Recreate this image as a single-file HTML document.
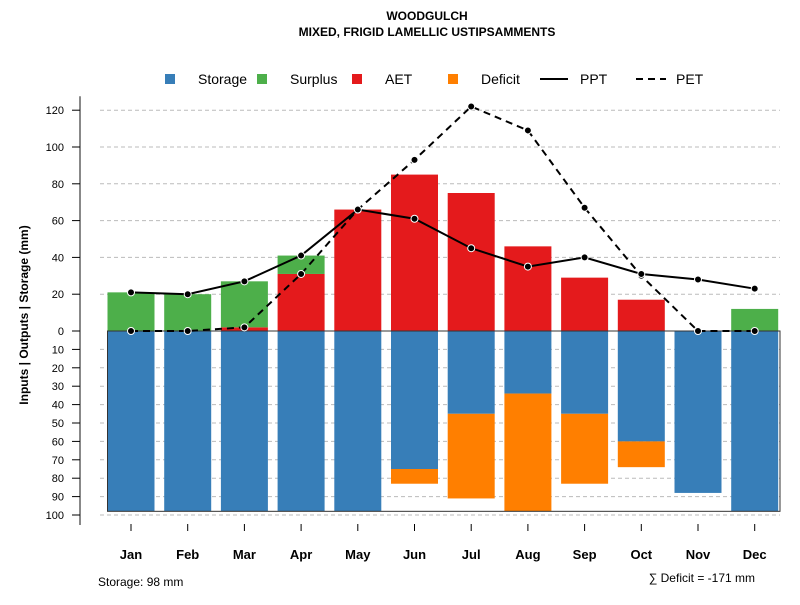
<!DOCTYPE html>
<html><head><meta charset="utf-8"><style>
body{margin:0;background:#fff;font-family:"Liberation Sans",sans-serif}
svg text{font-family:"Liberation Sans",sans-serif}
</style></head><body>
<svg id="c" width="800" height="600" xmlns="http://www.w3.org/2000/svg"></svg>
<script>
const months=["Jan","Feb","Mar","Apr","May","Jun","Jul","Aug","Sep","Oct","Nov","Dec"];
const storage=[98,98,98,98,98,75,45,34,45,60,88,98];
const deficit=[0,0,0,0,0,8,46,64,38,14,0,0];
const aet=[0,0,2,31,66,85,75,46,29,17,0,0];
const surplus=[21,20,25,10,0,0,0,0,0,0,0,12];
const ppt=[21,20,27,41,66,61,45,35,40,31,28,23];
const pet=[0,0,2,31,66,93,122,109,67,30,0,0];
const upTicks=[0,20,40,60,80,100,120];
const downTicks=[10,20,30,40,50,60,70,80,90,100];
const NS="http://www.w3.org/2000/svg";
const svg=document.getElementById('c');
const K=1.84,Y0=331;
const yUp=v=>Y0-v*K, yDn=v=>Y0+v*K;
const xc=i=>131+i*56.7, BW=47;
function el(t,a,txt){const e=document.createElementNS(NS,t);for(const k in a)e.setAttribute(k,a[k]);if(txt!=null)e.textContent=txt;svg.appendChild(e);return e;}
// title
let t=el('text',{x:427,y:20,'text-anchor':'middle','font-size':12,'font-weight':'bold'},'WOODGULCH');

t=el('text',{x:427,y:36,'text-anchor':'middle','font-size':12,'font-weight':'bold'},'MIXED, FRIGID LAMELLIC USTIPSAMMENTS');

// grid
upTicks.forEach(v=>{if(v===0)return;let g=el('line',{x1:100,x2:780,y1:yUp(v),y2:yUp(v),stroke:'#bbb','stroke-dasharray':'4,3'});});
downTicks.forEach(v=>{let g=el('line',{x1:100,x2:780,y1:yDn(v),y2:yDn(v),stroke:'#bbb','stroke-dasharray':'4,3'});});
// bars
months.forEach((m,i)=>{
 const x=xc(i)-BW/2;
 let r;
 if(storage[i]>0){r=el('rect',{x:x,y:Y0,width:BW,height:storage[i]*K,fill:'#377eb8'});}
 if(deficit[i]>0){r=el('rect',{x:x,y:yDn(storage[i]),width:BW,height:deficit[i]*K,fill:'#ff7f00'});}
 if(aet[i]>0){r=el('rect',{x:x,y:yUp(aet[i]),width:BW,height:aet[i]*K,fill:'#e41a1c'});}
 if(surplus[i]>0){r=el('rect',{x:x,y:yUp(aet[i]+surplus[i]),width:BW,height:surplus[i]*K,fill:'#4daf4a'});}
});
let b=el('rect',{x:xc(0)-BW/2,y:Y0,width:780-(xc(0)-BW/2),height:98*K,fill:'none',stroke:'#333','stroke-width':1});

// lines
function line(arr,dash,name){
 const d=arr.map((v,i)=>(i?'L':'M')+xc(i)+','+yUp(v)).join(' ');
 let p=el('path',{d:d,fill:'none',stroke:'#000','stroke-width':2,'stroke-dasharray':dash});
 
 arr.forEach((v,i)=>{let c=el('circle',{cx:xc(i),cy:yUp(v),r:3.5,fill:'#000',stroke:'#fff','stroke-width':1});});
}
line(pet,'7,5','pet');
line(ppt,'none','ppt');
// y axis
let ax=el('line',{x1:80,x2:80,y1:yUp(upTicks[upTicks.length-1])-14,y2:yDn(100)+10,stroke:'#888','stroke-width':2});

upTicks.forEach(v=>{el('line',{x1:72,x2:80,y1:yUp(v),y2:yUp(v),stroke:'#000'});let l=el('text',{x:64,y:yUp(v)+4,'text-anchor':'end','font-size':11},v);});
downTicks.forEach(v=>{el('line',{x1:72,x2:80,y1:yDn(v),y2:yDn(v),stroke:'#000'});let l=el('text',{x:64,y:yDn(v)+4,'text-anchor':'end','font-size':11},v);});
t=el('text',{x:28,y:315,'text-anchor':'middle','font-size':12,'font-weight':'bold',transform:'rotate(-90 28 315)'},'Inputs | Outputs | Storage    (mm)');

// x labels
months.forEach((m,i)=>{el('line',{x1:xc(i),x2:xc(i),y1:524,y2:531,stroke:'#000'});let l=el('text',{x:xc(i),y:559,'text-anchor':'middle','font-size':13,'font-weight':'bold'},m);});
// legend
const leg=[['Storage','#377eb8',170],['Surplus','#4daf4a',262],['AET','#e41a1c',357],['Deficit','#ff7f00',453]];
leg.forEach(([n,c,x])=>{let r=el('rect',{x:x-5,y:74,width:10,height:10,fill:c});let l=el('text',{x:x+28,y:84,'font-size':14},n);});
el('line',{x1:540,x2:568,y1:79,y2:79,stroke:'#000','stroke-width':2});
t=el('text',{x:580,y:84,'font-size':14},'PPT');
el('line',{x1:636,x2:666,y1:79,y2:79,stroke:'#000','stroke-width':2,'stroke-dasharray':'7,5'});
t=el('text',{x:676,y:84,'font-size':14},'PET');
// footnotes
t=el('text',{x:98,y:586,'font-size':12},'Storage: 98 mm');
t=el('text',{x:755,y:582,'text-anchor':'end','font-size':12},'∑ Deficit = -171 mm');
</script>
</body></html>
